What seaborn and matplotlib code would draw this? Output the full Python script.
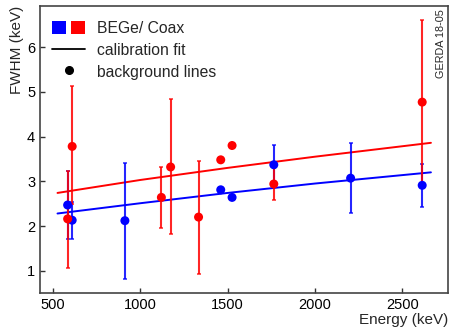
import numpy as np
import pandas as pd
import matplotlib
matplotlib.use("Agg")
import matplotlib.pyplot as plt
from matplotlib.patches import Rectangle
from matplotlib.lines import Line2D
from matplotlib.legend_handler import HandlerTuple
import seaborn as sns

# Background gamma lines: energy (keV), FWHM (keV) and error-bar limits
energy_bege = [583, 609, 911, 1460, 1525, 1764, 2204, 2614]
fwhm_bege = [2.47, 2.13, 2.12, 2.81, 2.64, 3.37, 3.07, 2.91]
low_bege = [1.72, 1.72, 0.81, 2.81, 2.64, 2.93, 2.30, 2.43]
high_bege = [3.24, 2.53, 3.42, 2.81, 2.64, 3.82, 3.85, 3.39]

energy_coax = [583, 609, 1120, 1173, 1333, 1460, 1525, 1764, 2614]
fwhm_coax = [2.16, 3.78, 2.64, 3.32, 2.20, 3.48, 3.80, 2.94, 4.77]
low_coax = [1.07, 2.50, 1.96, 1.82, 0.93, 3.48, 3.80, 2.59, 2.91]
high_coax = [3.24, 5.12, 3.32, 4.84, 3.46, 3.48, 3.80, 3.30, 6.61]

# Calibration fit curves
fit_energy = [525, 1000, 1500, 2000, 2664]
fit_bege = [2.28, 2.51, 2.74, 2.95, 3.20]
fit_coax = [2.74, 3.03, 3.30, 3.55, 3.86]

BLUE = "#0000ff"
RED = "#ff0000"

sns.set_theme(style="ticks")
plt.rcParams["font.family"] = ["Liberation Sans", "DejaVu Sans"]

fig = plt.figure(figsize=(4.5, 3.29), dpi=100)
ax = fig.add_axes([0.089, 0.109, 0.907, 0.873])

fits = pd.DataFrame({
    "energy": fit_energy * 2,
    "fwhm": fit_bege + fit_coax,
    "det": ["BEGe"] * len(fit_energy) + ["Coax"] * len(fit_energy),
})
sns.lineplot(data=fits, x="energy", y="fwhm", hue="det",
             palette={"BEGe": BLUE, "Coax": RED}, lw=1.4, ax=ax, legend=False)

for e, f, lo, hi, c in [(energy_bege, fwhm_bege, low_bege, high_bege, BLUE),
                        (energy_coax, fwhm_coax, low_coax, high_coax, RED)]:
    f = np.array(f)
    yerr = np.vstack([f - np.array(lo), np.array(hi) - f])
    ax.errorbar(e, f, yerr=yerr, fmt="none", ecolor=c, elinewidth=1.5,
                capsize=1.7, capthick=1.1, alpha=0.85)

points = pd.DataFrame({
    "energy": energy_bege + energy_coax,
    "fwhm": fwhm_bege + fwhm_coax,
    "det": ["BEGe"] * len(energy_bege) + ["Coax"] * len(energy_coax),
})
sns.scatterplot(data=points, x="energy", y="fwhm", hue="det",
                palette={"BEGe": BLUE, "Coax": RED}, s=42, edgecolor="none",
                ax=ax, legend=False, zorder=5)

ax.set_xlim(425, 2763)
ax.set_ylim(0.5, 6.92)
ax.set_xticks([500, 1000, 1500, 2000, 2500])
ax.set_yticks([1, 2, 3, 4, 5, 6])
ax.tick_params(direction="in", length=3.5, width=1.0, labelsize=10.5,
               colors="#333333", labelcolor="black")
for side in ax.spines.values():
    side.set_color("#444444")
    side.set_linewidth(1.2)

ax.set_xlabel("Energy (keV)", fontsize=11, loc="right", labelpad=1)
ax.set_ylabel("FWHM (keV)", fontsize=11, loc="top", labelpad=2)

ax.text(0.982, 0.99, "GERDA 18-05", rotation=90, transform=ax.transAxes,
        ha="center", va="top", fontsize=7.8)

sq_b = Rectangle((0, 0), 1, 1, facecolor=BLUE, edgecolor="none")
sq_r = Rectangle((0, 0), 1, 1, facecolor=RED, edgecolor="none")
line_h = Line2D([], [], color="black", lw=1.3)
dot_h = Line2D([], [], color="black", marker="o", ls="none", markersize=5.5)
ax.legend([(sq_b, sq_r), line_h, dot_h],
          ["BEGe/ Coax", "calibration fit", "background lines"],
          handler_map={tuple: HandlerTuple(ndivide=None, pad=0.3)},
          loc="upper left", bbox_to_anchor=(0.03, 0.948), borderaxespad=0,
          borderpad=0, frameon=False, fontsize=11.3, handlelength=2.1,
          handleheight=0.95, handletextpad=0.75, labelspacing=0.42)

fig.savefig("out.png", dpi=100)
